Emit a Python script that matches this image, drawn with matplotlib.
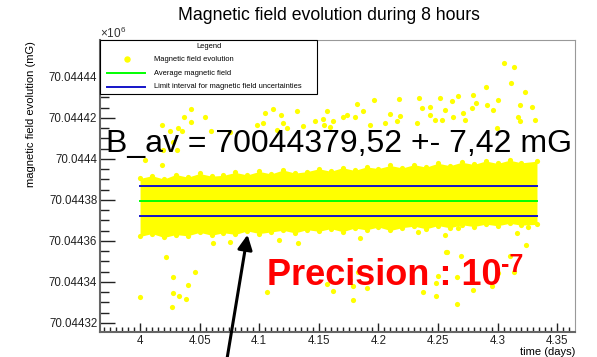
import matplotlib
matplotlib.use("Agg")
import matplotlib.pyplot as plt
from matplotlib.patches import Rectangle, FancyArrowPatch
from matplotlib.lines import Line2D
from matplotlib.ticker import MultipleLocator

plt.rcParams['font.family'] = ['Liberation Sans', 'DejaVu Sans']
plt.rcParams['mathtext.fontset'] = 'custom'
plt.rcParams['mathtext.rm'] = 'Liberation Sans'
plt.rcParams['mathtext.bf'] = 'Liberation Sans:bold'

# average field and its uncertainty (mG)
b_avg = 70044379.52
b_err = 7.42
t_start = 4.0
t_end = 4.3333

# dense band of measurements: edges read every 0.01 day (mG)
band_t = [4.00, 4.01, 4.02, 4.03, 4.04, 4.05, 4.06, 4.07, 4.08, 4.09,
          4.10, 4.11, 4.12, 4.13, 4.14, 4.15, 4.16, 4.17, 4.18, 4.19,
          4.20, 4.21, 4.22, 4.23, 4.24, 4.25, 4.26, 4.27, 4.28, 4.29,
          4.30, 4.31, 4.32, 4.333]
band_top = [70044390.5, 70044391.8, 70044390.2, 70044392.4, 70044391.1, 70044392.9,
            70044391.6, 70044392.0, 70044393.4, 70044392.2, 70044393.9, 70044392.7,
            70044394.6, 70044393.1, 70044393.8, 70044395.2, 70044394.0, 70044395.7,
            70044394.4, 70044396.1, 70044395.3, 70044396.8, 70044395.6, 70044397.2,
            70044396.0, 70044397.9, 70044396.7, 70044398.4, 70044397.3, 70044399.0,
            70044397.8, 70044399.4, 70044398.1, 70044398.9]
band_bot = [70044362.2, 70044363.6, 70044361.7, 70044363.1, 70044362.5, 70044364.2,
            70044362.8, 70044364.0, 70044363.2, 70044364.9, 70044363.6, 70044364.4,
            70044365.2, 70044363.9, 70044365.5, 70044364.7, 70044366.0, 70044364.5,
            70044366.3, 70044365.4, 70044366.8, 70044365.1, 70044366.5, 70044367.2,
            70044365.9, 70044367.5, 70044366.4, 70044367.9, 70044367.0, 70044368.2,
            70044367.4, 70044368.6, 70044367.7, 70044368.1]

# isolated measurements outside the band
out_t = [4.3056, 4.3140, 4.3112, 4.2900, 4.3230, 4.2796, 4.2670, 4.2175, 4.1966, 4.2341,
         4.2514, 4.3001, 4.2816, 4.2620, 4.1823, 4.2363, 4.2559, 4.2433, 4.3286, 4.3188,
         4.1873, 4.2097, 4.2181, 4.2433, 4.2712, 4.2783, 4.2909, 4.2964, 4.3173, 4.3314,
         4.3188, 4.2727, 4.2475, 4.2628, 4.2321, 4.2058, 4.2154, 4.1930, 4.1804, 4.2531,
         4.2992, 4.0428, 4.1113, 4.1315, 4.1566, 4.1049, 4.1183, 4.1468, 4.1538, 4.1622,
         4.1706, 4.1734, 4.0182, 4.0369, 4.0428, 4.0321, 4.0252, 4.0350, 4.0596, 4.0755,
         4.0545, 4.0979, 4.1034, 4.1202, 4.1370, 4.1546, 4.1594, 4.1147, 4.1231, 4.0279,
         4.0308, 4.0195, 4.0042, 4.0182,
         4.0216, 4.0279, 4.0279, 4.0330, 4.0382, 4.0266, 4.0000, 4.0400, 4.0461, 4.1063,
         4.1566, 4.1622, 4.1790, 4.1790, 4.1902, 4.2372, 4.2483, 4.2657, 4.2791, 4.2481,
         4.2951, 4.2567, 4.2693, 4.2503, 4.2657, 4.3104, 4.3138, 4.3236, 4.3006, 4.1762,
         4.1831, 4.1166, 4.1328, 4.0615, 4.0755, 4.3258, 4.2559, 4.2573, 4.1846, 4.2335,
         4.2670, 4.3160]
out_b = [70044446.7, 70044444.7, 70044436.9, 70044435.0, 70044432.5, 70044431.2, 70044430.9,
         70044429.1, 70044428.6, 70044429.6, 70044429.6, 70044428.8, 70044427.2, 70044428.3,
         70044426.7, 70044424.7, 70044423.9, 70044425.5, 70044425.5, 70044426.3, 70044423.4,
         70044422.0, 70044421.1, 70044421.5, 70044422.6, 70044424.7, 70044426.3, 70044423.9,
         70044420.6, 70044419.0, 70044418.7, 70044419.0, 70044419.0, 70044420.6, 70044417.4,
         70044417.7, 70044418.7, 70044416.6, 70044420.6, 70044419.0, 70044415.0, 70044424.4,
         70044424.4, 70044423.4, 70044423.6, 70044422.3, 70044421.5, 70044418.5, 70044419.4,
         70044418.5, 70044420.6, 70044421.5, 70044416.6, 70044420.6, 70044417.9, 70044415.0,
         70044413.8, 70044413.8, 70044413.8, 70044413.3, 70044420.3, 70044416.6, 70044417.4,
         70044417.7, 70044416.1, 70044416.6, 70044415.8, 70044414.1, 70044415.3, 70044408.4,
         70044404.4, 70044404.4, 70044399.5, 70044397.1,
         70044352.3, 70044342.6, 70044334.5, 70044333.3, 70044331.7, 70044327.7, 70044332.5,
         70044338.3, 70044345.0, 70044335.1, 70044339.0, 70044335.5, 70044338.2, 70044331.2,
         70044337.1, 70044334.9, 70044333.3, 70044329.2, 70044336.3, 70044339.4, 70044338.0,
         70044354.5, 70044352.8, 70044343.1, 70044342.6, 70044352.8, 70044345.0, 70044358.0,
         70044344.2, 70044341.0, 70044345.0, 70044360.5, 70044358.9, 70044359.2, 70044359.7,
         70044367.0, 70044362.9, 70044354.8, 70044361.3, 70044364.5, 70044366.2, 70044363.8]

y_ticks = [70044320, 70044340, 70044360, 70044380, 70044400, 70044420, 70044440]
y_labels = ["70.04432", "70.04434", "70.04436", "70.04438", "70.0444", "70.04442", "70.04444"]
x_ticks = [4.0, 4.05, 4.1, 4.15, 4.2, 4.25, 4.3, 4.35]
x_labels = ["4", "4.05", "4.1", "4.15", "4.2", "4.25", "4.3", "4.35"]

yellow = '#ffff00'
green = '#00ff00'
blue = '#1414c8'

fig = plt.figure(figsize=(5.97, 3.57), dpi=100)
ax = fig.add_axes([100/597, 25/357, 475/597, 292/357])

ax.fill_between(band_t, band_bot, band_top, color=yellow, lw=0, zorder=2)
ax.scatter(band_t, band_top, s=14, color=yellow, lw=0, zorder=2)
ax.scatter(band_t, band_bot, s=14, color=yellow, lw=0, zorder=2)
ax.scatter(out_t, out_b, s=14, color=yellow, lw=0, zorder=2)

ax.plot([t_start, t_end], [b_avg, b_avg], color=green, lw=1.4, zorder=3)
ax.plot([t_start, t_end], [b_avg + b_err, b_avg + b_err], color=blue, lw=1.4, zorder=3)
ax.plot([t_start, t_end], [b_avg - b_err, b_avg - b_err], color=blue, lw=1.4, zorder=3)

ax.set_xlim(3.9664, 4.3649)
ax.set_ylim(70044315.6, 70044458.0)
ax.set_xticks(x_ticks)
ax.set_xticklabels(x_labels)
ax.set_yticks(y_ticks)
ax.set_yticklabels(y_labels)
ax.xaxis.set_minor_locator(MultipleLocator(0.005))
ax.yaxis.set_minor_locator(MultipleLocator(5))
ax.tick_params(which='both', direction='in', top=False, right=False,
               labelsize=8.3, colors='#222222')
ax.tick_params(axis='y', which='major', length=10.5, width=1.0, pad=2)
ax.tick_params(axis='y', which='minor', length=6.3, width=1.0)
ax.tick_params(axis='x', which='major', length=6.5, width=1.0, pad=2)
ax.tick_params(axis='x', which='minor', length=3.4, width=1.0)
for side in ['left', 'bottom']:
    ax.spines[side].set_color('#666666')
    ax.spines[side].set_linewidth(1.5)
for side in ['top', 'right']:
    ax.spines[side].set_color('#999999')
    ax.spines[side].set_linewidth(0.8)

fig.text(329/597, 1 - 15/357, "Magnetic field evolution during 8 hours",
         ha='center', va='center', fontsize=12.7)
fig.text(31/597, 1 - 114/357, "magnetic field evolution (mG)", rotation=90,
         ha='center', va='center', fontsize=8)
fig.text(575/597, 1 - 352/357, "time (days)", ha='right', va='center', fontsize=8)
fig.text(100/597, 1 - 33/357, r"$\times10^{6}$", ha='left', va='center', fontsize=8.5,
         color='#333333')

# legend box
lx0, ly0, lx1, ly1 = 100, 40, 317, 94
fig.patches.append(Rectangle((lx0/597, 1 - ly1/357), (lx1 - lx0)/597, (ly1 - ly0)/357,
                             transform=fig.transFigure, facecolor='white',
                             edgecolor='black', lw=0.8, zorder=5))
fig.text(209/597, 1 - 46/357, "Legend", ha='center', va='center', fontsize=5.4, zorder=6)
fig.add_artist(Line2D([126.7/597], [1 - 59.3/357], marker='o', ms=3.6, color=yellow,
                      lw=0, transform=fig.transFigure, zorder=6))
fig.add_artist(Line2D([107/597, 145/597], [1 - 73.3/357, 1 - 73.3/357], color=green,
                      lw=1.4, transform=fig.transFigure, zorder=6))
fig.add_artist(Line2D([107/597, 145/597], [1 - 86.7/357, 1 - 86.7/357], color=blue,
                      lw=1.4, transform=fig.transFigure, zorder=6))
leg_names = ["Magnetic field evolution", "Average magnetic field",
             "Limit interval for magnetic field uncertainties"]
for name, yy in zip(leg_names, [59.3, 73.3, 86.7]):
    fig.text(153.5/597, 1 - yy/357, name, ha='left', va='center', fontsize=5.4, zorder=6)

# annotations
fig.text(106/597, 1 - 152/357, "B_av = 70044379,52 +- 7,42 mG", ha='left',
         va='baseline', fontsize=23, zorder=7)
fig.text(267/597, 1 - 285/357, "Precision : 10", ha='left',
         va='baseline', fontsize=26, fontweight='bold', color='#ff0000', zorder=7)
fig.text(501/597, 1 - 272/357, "-7", ha='left',
         va='baseline', fontsize=18, fontweight='bold', color='#ff0000', zorder=7)
fig.add_artist(FancyArrowPatch(
    (226/597, 1 - 365/357), (248/597, 1 - 232/357), transform=fig.transFigure,
    arrowstyle='-|>', mutation_scale=22, lw=2.2, color='black', zorder=8))

fig.savefig("out.png", dpi=100)
